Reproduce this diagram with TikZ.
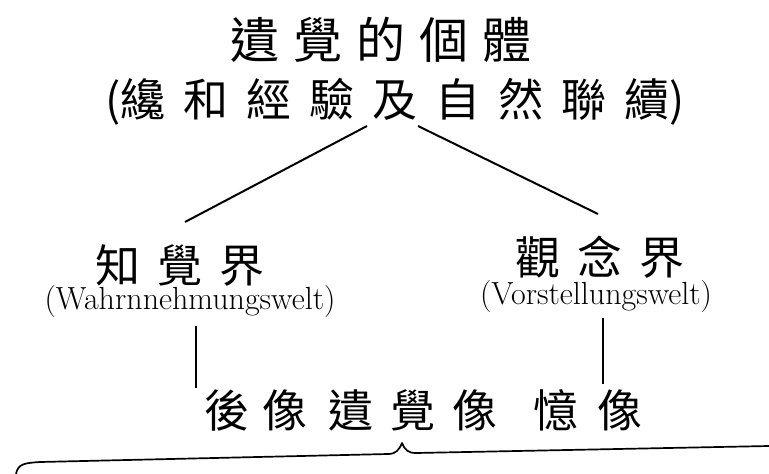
\documentclass[tikz,border=0pt]{standalone}
\usepackage{fontspec}
\newfontfamily\cjk{Noto Sans CJK TC}
\newcommand\jg{\hspace{14pt}}
\newcommand\jh{\hspace{18pt}}
\begin{document}
\begin{tikzpicture}[x=1pt,y=-1pt,
  big/.style={font=\cjk\fontsize{49}{52}\selectfont, inner sep=0pt},
  mid/.style={font=\cjk\fontsize{45}{48}\selectfont, inner sep=0pt},
  lat/.style={font=\fontsize{32}{34}\selectfont, inner sep=0pt},
  link/.style={line width=2pt, black},
  brc/.style={line width=1.7pt, black, line cap=round, line join=round}]
\useasboundingbox (0,0) rectangle (769,474);

\node[big] (title) at (381,40) {遺\jg 覺\jg 的\jg 個\jg 體};
\node[mid] (sub) at (395,102) {(纔\jh 和\jh 經\jh 驗\jh 及\jh 自\jh 然\jh 聯\jh 續)};

\node[mid] (perc) at (180,266) {知\hspace{17pt}覺\hspace{17pt}界};
\node[lat] (percde) at (190,302) {(Wahrnnehmungswelt)};
\node[mid] (idea) at (600,257) {觀\hspace{17pt}念\hspace{17pt}界};
\node[lat] (ideade) at (596,297) {(Vorstellungswelt)};

\node[mid] (after) at (256,410) {後\hspace{14pt}像};
\node[mid] (eid) at (413,410) {遺\hspace{17pt}覺\hspace{17pt}像};
\node[mid] (mem) at (588,410) {憶\hspace{19pt}像};

\coordinate (lt) at (367,126);
\coordinate (lb) at (185,222);
\coordinate (rt) at (418,126);
\coordinate (rb) at (598,214);
\draw[link] (lt) -- (lb);
\draw[link] (rt) -- (rb);

\coordinate (pv1) at (196,326);
\coordinate (pv2) at (196,388);
\coordinate (iv1) at (603,318);
\coordinate (iv2) at (603,384);
\draw[line width=1.5pt] (pv1) -- (pv2);
\draw[line width=1.5pt] (iv1) -- (iv2);

\coordinate (bl) at (16,474);
\coordinate (br) at (769,446);
\coordinate (tip) at (402,443);
\draw[brc] (bl) .. controls (18,464) and (24,463) .. (40,462)
  -- (388,454) .. controls (396,454) and (399,450) .. (tip)
  .. controls (405,450) and (408,453) .. (416,453) -- (br);
\end{tikzpicture}
\end{document}
